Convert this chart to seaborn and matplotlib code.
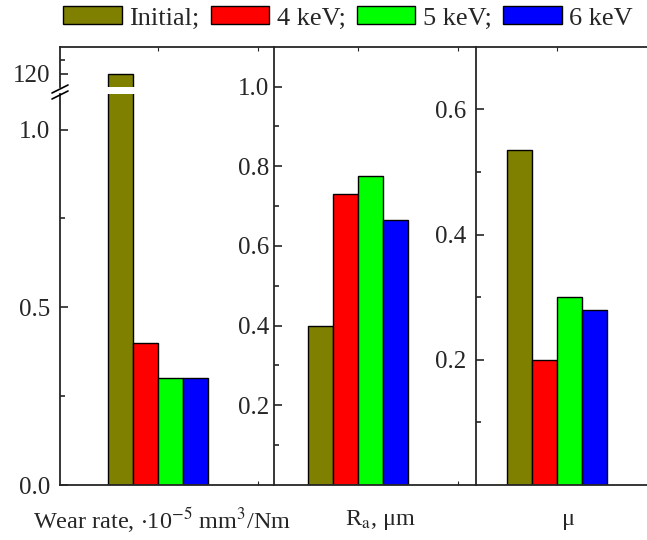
"""
Wear rate, roughness and friction coefficient, three panels in one frame.
"""

import pandas as pd
import seaborn as sns
import matplotlib.pyplot as plt
from matplotlib.lines import Line2D
from matplotlib.ticker import FormatStrFormatter


# Data
energies = ["Initial", "4 keV", "5 keV", "6 keV"]
colors = ["#808000", "#FF0000", "#00FF00", "#0000FF"]
wear_rate = [120, 0.40, 0.30, 0.30]
roughness = [0.40, 0.73, 0.775, 0.665]
friction = [0.535, 0.20, 0.30, 0.28]

FS = 18


def make_frame(values, name):
    return pd.DataFrame({"group": name, "energy": energies, "value": values})


def draw_bars(ax, df):
    sns.barplot(data=df, x="group", y="value", hue="energy",
                hue_order=energies, palette=colors, width=0.4, saturation=1,
                edgecolor="black", linewidth=1, ax=ax, legend=True)


def style_axis(ax, xlim, pad):
    ax.set_xlim(*xlim)
    ax.set_xlabel("")
    ax.set_ylabel("")
    ax.tick_params(axis="y", which="major", direction="in", length=6,
                   width=1.2, pad=pad, labelsize=FS)
    ax.tick_params(axis="y", which="minor", direction="in", length=3.5,
                   width=1.2)
    ax.tick_params(axis="x", which="both", direction="in", length=3,
                   width=0.8, labelbottom=False, top=True)
    for s in ax.spines.values():
        s.set_linewidth(1.3)
    if ax.get_legend() is not None:
        ax.get_legend().remove()


# Figure
sns.set_style("ticks")
plt.rcParams["font.family"] = ["Liberation Serif", "DejaVu Serif"]
plt.rcParams["mathtext.fontset"] = "stix"

W, H = 647, 540
fig = plt.figure(figsize=(W / 100, H / 100), dpi=100)


def rect(x0, x1, y0, y1):
    # pixel box -> figure fraction
    return [x0 / W, 1 - y1 / H, (x1 - x0) / W, (y1 - y0) / H]


ax1 = fig.add_axes(rect(60, 274, 94, 485))
ax1t = fig.add_axes(rect(60, 274, 46.7, 87.3))
ax2 = fig.add_axes(rect(274, 476, 46.7, 485))
ax3 = fig.add_axes(rect(476, 700, 46.7, 485))

# Panel 1 - wear rate with broken axis
df1 = make_frame(wear_rate, "wear")
draw_bars(ax1, df1)
handles, labels = ax1.get_legend_handles_labels()
draw_bars(ax1t, df1)
ax1.set_ylim(0, 1.1)
ax1.set_yticks([0, 0.5, 1.0])
ax1.set_yticks([0.25, 0.75], minor=True)
ax1.yaxis.set_major_formatter(FormatStrFormatter("%.1f"))
ax1t.set_ylim(115, 130)
ax1t.set_yticks([120])
ax1t.set_yticks([125], minor=True)
style_axis(ax1, (-98 / 250, 116 / 250), 7)
style_axis(ax1t, (-98 / 250, 116 / 250), 7)
ax1.set_xticks([0, 0.4])
ax1t.set_xticks([0, 0.4])
ax1.tick_params(axis="x", top=False)
ax1.spines["top"].set_visible(False)
ax1.spines["right"].set_visible(False)
ax1t.spines["bottom"].set_visible(False)
ax1t.spines["right"].set_visible(False)
ax1t.tick_params(axis="x", bottom=False)

# break marks
for dy in (0, 6):
    fig.add_artist(Line2D([52 / W, 68 / W],
                          [1 - (93 + dy) / H, 1 - (85 + dy) / H],
                          color="black", lw=1.2, transform=fig.transFigure))

# Panel 2 - roughness
draw_bars(ax2, make_frame(roughness, "ra"))
ax2.set_ylim(0, 1.1)
ax2.set_yticks([0.2, 0.4, 0.6, 0.8, 1.0])
ax2.set_yticks([0.1, 0.3, 0.5, 0.7, 0.9], minor=True)
ax2.yaxis.set_major_formatter(FormatStrFormatter("%.1f"))
style_axis(ax2, (-84 / 250, 118 / 250), 3.5)
ax2.set_xticks([0, 0.4])
ax2.spines["right"].set_visible(False)

# Panel 3 - friction coefficient
draw_bars(ax3, make_frame(friction, "mu"))
ax3.set_ylim(0, 0.7)
ax3.set_yticks([0.2, 0.4, 0.6])
ax3.set_yticks([0.1, 0.3, 0.5], minor=True)
ax3.yaxis.set_major_formatter(FormatStrFormatter("%.1f"))
style_axis(ax3, (-81 / 250, 143 / 250), 7)
ax3.set_xticks([0])

# x labels
fig.text(162 / W, 1 - 520 / H, r"Wear rate, $\cdot$10$^{-5}$ mm$^{3}$/Nm",
         ha="center", va="center", fontsize=17.5)
fig.text(380 / W, 1 - 520 / H, r"R$_{\mathrm{a}}$, μm",
         ha="center", va="center", fontsize=17.5)
fig.text(568 / W, 1 - 520 / H, "μ", ha="center", va="center", fontsize=17.5)

# Legend
leg = fig.legend(handles, [l + ";" if l != energies[-1] else l for l in labels],
                 loc="center", bbox_to_anchor=(348 / W, 1 - 18 / H), ncol=4,
                 frameon=False, fontsize=19, handlelength=2.2,
                 handleheight=0.68, handletextpad=0.28, columnspacing=0.45)
for h in leg.legend_handles:
    h.set_edgecolor("black")
    h.set_linewidth(1)

fig.savefig("out.png", dpi=100)
